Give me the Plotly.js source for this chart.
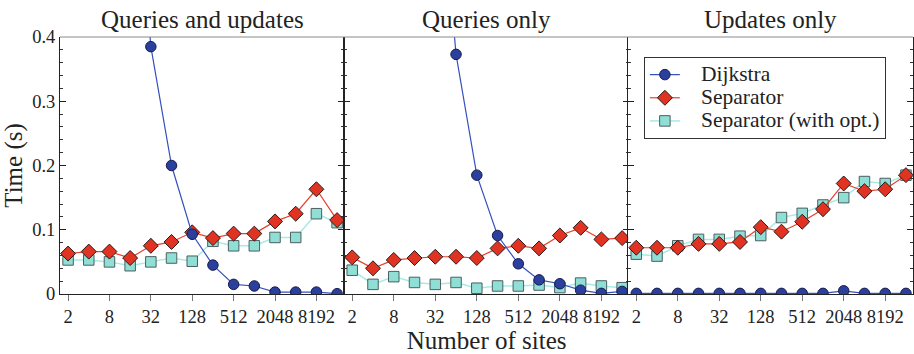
<!DOCTYPE html>
<html>
<head>
<meta charset="utf-8">
<script src="https://cdn.plot.ly/plotly-3.0.1.min.js"></script>
<style>
  html, body { margin: 0; padding: 0; background: #ffffff; }
  #chart { width: 914px; height: 354px; }
</style>
</head>
<body>
<div id="chart"></div>
<script>
// ---- data ----
const sites = [2, 4, 8, 16, 32, 64, 128, 256, 512, 1024, 2048, 4096, 8192, 16384];
const tickVals = [2, 8, 32, 128, 512, 2048, 8192];
const tickText = ['2', '8', '32', '128', '512', '2048', '8192'];
const yTickVals = [0, 0.1, 0.2, 0.3, 0.4];
const yTickText = ['0', '0.1', '0.2', '0.3', '0.4'];

const panelTitles = ['Queries and updates', 'Queries only', 'Updates only'];
const seriesNames = ['Dijkstra', 'Separator', 'Separator (with opt.)'];

// Queries and updates
const quDijkstra  = [6.2, 3.1, 1.55, 0.78, 0.385, 0.200, 0.093, 0.045, 0.015, 0.0125, 0.003, 0.003, 0.003, 0.0005];
const quSeparator = [0.063, 0.066, 0.066, 0.056, 0.075, 0.081, 0.096, 0.087, 0.094, 0.094, 0.113, 0.125, 0.163, 0.115];
const quSepOpt    = [0.053, 0.053, 0.050, 0.044, 0.050, 0.056, 0.051, 0.082, 0.075, 0.075, 0.088, 0.088, 0.125, 0.111];

// Queries only
const qDijkstra  = [12, 6, 3, 1.5, 0.74, 0.373, 0.185, 0.091, 0.047, 0.022, 0.016, 0.006, 0.001, 0.004];
const qSeparator = [0.057, 0.040, 0.053, 0.056, 0.058, 0.058, 0.056, 0.071, 0.075, 0.071, 0.091, 0.103, 0.085, 0.087];
const qSepOpt    = [0.037, 0.015, 0.027, 0.018, 0.015, 0.018, 0.009, 0.0125, 0.0125, 0.014, 0.010, 0.017, 0.0125, 0.0098];

// Updates only
const uDijkstra  = [0.001, 0.001, 0.001, 0.001, 0.001, 0.001, 0.001, 0.001, 0.001, 0.001, 0.005, 0.001, 0.001, 0.001];
const uSeparator = [0.072, 0.072, 0.072, 0.078, 0.078, 0.081, 0.104, 0.097, 0.1125, 0.132, 0.172, 0.160, 0.163, 0.185];
const uSepOpt    = [0.062, 0.059, 0.075, 0.085, 0.085, 0.090, 0.091, 0.119, 0.1255, 0.1385, 0.150, 0.175, 0.172, 0.185];

// ---- styling ----
const FONT = 'Liberation Serif, Times New Roman, serif';
const blueFill = '#2b3f9c', blueLine = '#3550bd';
const redFill = '#e03322', redLine = '#e8402c';
const cyanFill = '#8fdfd6', cyanLine = '#a6ebe4';

const panels = [
  {d: quDijkstra, s: quSeparator, o: quSepOpt},
  {d: qDijkstra,  s: qSeparator,  o: qSepOpt},
  {d: uDijkstra,  s: uSeparator,  o: uSepOpt}
];

function legendName(t) {
  return '<span style="font-size:21.5px;font-family:Liberation Serif,serif">&nbsp;&nbsp;&nbsp;' + t + '</span>';
}

const traces = [];
panels.forEach((p, i) => {
  const xa = i === 0 ? 'x' : 'x' + (i + 1);
  const ya = i === 0 ? 'y' : 'y' + (i + 1);
  const show = i === 2;
  traces.push({
    type: 'scatter', mode: 'lines+markers', x: sites, y: p.o, xaxis: xa, yaxis: ya,
    name: legendName(seriesNames[2]), legendgroup: 'o', showlegend: show,
    line: {color: cyanLine, width: 1.5},
    marker: {symbol: 'square', size: 10.5, color: cyanFill, line: {color: '#4d5e5e', width: 1}}
  });
  traces.push({
    type: 'scatter', mode: 'lines+markers', x: sites, y: p.s, xaxis: xa, yaxis: ya,
    name: legendName(seriesNames[1]), legendgroup: 's', showlegend: show,
    line: {color: redLine, width: 1.2},
    marker: {symbol: 'diamond', size: 11.5, color: redFill, line: {color: '#2a1a1a', width: 1}}
  });
  traces.push({
    type: 'scatter', mode: 'lines+markers', x: sites, y: p.d, xaxis: xa, yaxis: ya,
    name: legendName(seriesNames[0]), legendgroup: 'd', showlegend: show,
    line: {color: blueLine, width: 1.2},
    marker: {symbol: 'circle', size: 10.5, color: blueFill, line: {color: '#151a50', width: 1}}
  });
});

const xRange = [Math.log10(2) - 0.39 * Math.log10(2), Math.log10(16384) + 0.34 * Math.log10(2)];
const doms = [[0, 0.3331], [0.3331, 0.6673], [0.6661, 1]];

function xAxis(i) {
  return {
    domain: doms[i], type: 'log', range: xRange,
    tickmode: 'array', tickvals: tickVals, ticktext: tickText,
    ticks: 'outside', ticklen: 6, tickwidth: 1, tickcolor: '#777',
    showline: true, linecolor: '#222', linewidth: 1, mirror: false,
    showgrid: false, zeroline: false,
    tickfont: {family: FONT, size: 18.5, color: '#222'},
    anchor: i === 0 ? 'y' : 'y' + (i + 1)
  };
}
function yAxis(i) {
  return {
    range: [0, 0.4], tickmode: 'array', tickvals: yTickVals, ticktext: yTickText,
    ticks: 'inside', ticklen: 6, tickwidth: 1, tickcolor: '#222',
    minor: {tickmode: 'linear', tick0: 0, dtick: 0.02, ticks: 'inside', ticklen: 3, tickcolor: '#333', showgrid: false},
    showline: true, linecolor: '#222', linewidth: 1, mirror: 'allticks',
    showgrid: false, zeroline: false, showticklabels: i === 0,
    tickfont: {family: FONT, size: 18.5, color: '#222'},
    anchor: i === 0 ? 'x' : 'x' + (i + 1)
  };
}

const layout = {
  width: 914, height: 354,
  margin: {l: 60, r: 1, t: 37, b: 60},
  paper_bgcolor: '#ffffff', plot_bgcolor: '#ffffff',
  font: {family: FONT, color: '#222'},
  showlegend: true,
  legend: {
    x: 0.6845, y: 0.922, xanchor: 'left', yanchor: 'top',
    bgcolor: '#ffffff', bordercolor: '#333', borderwidth: 1,
    font: {family: FONT, size: 15.5, color: '#222'},
    traceorder: 'reversed', tracegroupgap: 0, itemwidth: 30
  },
  xaxis: xAxis(0), xaxis2: xAxis(1), xaxis3: xAxis(2),
  yaxis: yAxis(0), yaxis2: yAxis(1), yaxis3: yAxis(2),
  annotations: panelTitles.map((t, i) => ({
    text: t, xref: 'paper', yref: 'paper',
    x: (doms[i][0] + doms[i][1]) / 2, y: 1, xanchor: 'center', yanchor: 'bottom',
    yshift: 2, showarrow: false, font: {family: FONT, size: 25, color: '#222'}
  })),
  shapes: [{type: 'line', xref: 'paper', yref: 'paper', x0: 0, x1: 1, y0: 1, y1: 1,
            line: {color: '#8a8a8a', width: 1}}]
};
layout.yaxis.title = {text: 'Time (s)', font: {family: FONT, size: 25, color: '#222'}, standoff: 10};
layout.xaxis2.title = {text: 'Number of sites', font: {family: FONT, size: 25, color: '#222'}, standoff: 2};

Plotly.newPlot('chart', traces, layout, {displayModeBar: false, staticPlot: true});
</script>
</body>
</html>
